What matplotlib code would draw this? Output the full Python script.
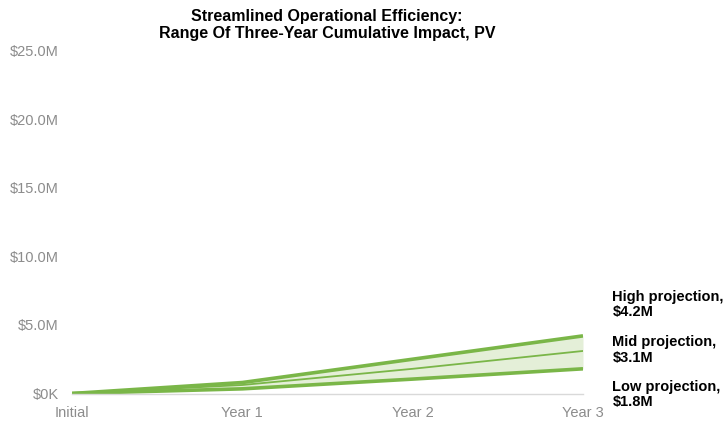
import matplotlib
matplotlib.use("Agg")
import matplotlib.pyplot as plt
from matplotlib.ticker import FuncFormatter

plt.rcParams['font.family'] = ['Liberation Sans', 'DejaVu Sans']

categories = ["Initial", "Year 1", "Year 2", "Year 3"]
high = [0, 0.8, 2.5, 4.2]
mid = [0, 0.62, 1.8, 3.1]
low = [0, 0.34, 1.05, 1.8]
yticks = [0, 5, 10, 15, 20, 25]
labels = ["High projection,\n$4.2M", "Mid projection,\n$3.1M", "Low projection,\n$1.8M"]

green = "#7AB648"
fill = "#E4EFD8"

W, H = 723, 421
fig = plt.figure(figsize=(W/100, H/100), dpi=100)
L, R, B, T = 72, 583, 393.5, 50.5
ax = fig.add_axes([L/W, 1-B/H, (R-L)/W, (B-T)/H])
x = list(range(len(categories)))
ax.fill_between(x, low, high, color=fill, lw=0)
ax.plot(x, high, color=green, lw=2.6, solid_capstyle='butt')
ax.plot(x, mid, color=green, lw=1.3)
ax.plot(x, low, color=green, lw=2.6, solid_capstyle='butt')

ax.set_xlim(0, 3)
ax.set_ylim(0, 25)
ax.set_xticks(x)
ax.set_xticklabels(categories)
ax.set_yticks(yticks)
ax.yaxis.set_major_formatter(FuncFormatter(lambda v, p: "$0K" if v == 0 else f"${v:.1f}M"))
for s in ["top", "right", "left"]:
    ax.spines[s].set_visible(False)
ax.spines["bottom"].set_color("#D9D9D9")
ax.spines["bottom"].set_linewidth(1)
ax.tick_params(axis='both', length=0, labelsize=10.5, colors="#8C8C8C")
ax.tick_params(axis='y', pad=9.5)
ax.tick_params(axis='x', pad=9)
ax.patch.set_alpha(0)

label_y = [304.5, 350, 394.5]
for lab, yy in zip(labels, label_y):
    fig.text(612.5/W, 1-yy/H, lab, fontsize=10.5, fontweight='bold', color='black',
             va='center', ha='left', linespacing=1.15)

fig.text(327/W, 1-25/H, "Streamlined Operational Efficiency:\nRange Of Three-Year Cumulative Impact, PV",
         ha='center', va='center', fontsize=11.5, fontweight='bold', linespacing=1.2)

fig.savefig("out.png", dpi=100)
